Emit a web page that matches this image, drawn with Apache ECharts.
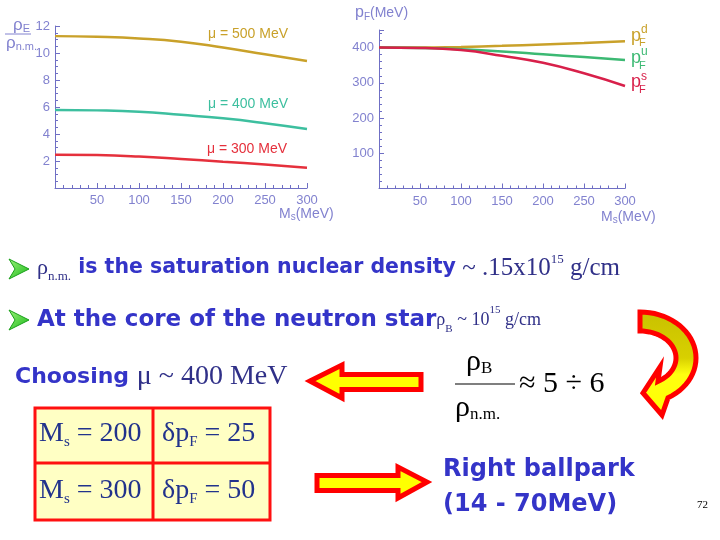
<!DOCTYPE html>
<html>
<head>
<meta charset="utf-8">
<script src="https://cdn.jsdelivr.net/npm/echarts@6/dist/echarts.min.js"></script>
<style>
  html, body { margin: 0; padding: 0; background: #fff; }
  #main { width: 720px; height: 540px; }
</style>
</head>
<body>
<div id="main"></div>
<script>
// strange quark mass Ms (MeV)
const msValues = [0, 50, 100, 150, 200, 250, 300]
// rho_B / rho_n.m. for three chemical potentials
const ratioMu500 = [11.25, 11.2, 11.08, 10.84, 10.4, 9.9, 9.4]
const ratioMu400 = [5.78, 5.75, 5.65, 5.42, 5.16, 4.8, 4.37]
const ratioMu300 = [2.47, 2.44, 2.33, 2.15, 1.95, 1.74, 1.5]
// Fermi momenta (MeV) at mu = 400 MeV
const pfD = [400, 400, 402, 405, 409, 413, 418]
const pfU = [400, 399, 395, 389, 381, 373, 365]
const pfS = [400, 399, 393, 377, 357, 327, 291]
const seriesLabels = ['μ = 500 MeV', 'μ = 400 MeV', 'μ = 300 MeV']

const axisBlue = '#6f6fc4'
const labelBlue = '#8282cf'
const gold = '#c9a12a'
const teal = '#3dbf9f'
const red = '#e5303c'
const green = '#3cb973'
const crimson = '#d8204a'
const comicBlue = '#3434c8'
const serifBlue = '#303088'
const sans = '"Liberation Sans", Arial, sans-serif'
const serif = '"Liberation Serif", "Times New Roman", serif'
const comic = '"DejaVu Sans", sans-serif'

const chart = echarts.init(document.getElementById('main'))

function pair(xs, ys) {
  return xs.map((x, i) => [x, ys[i]])
}

function xAxisCfg(idx) {
  return {
    gridIndex: idx, type: 'value', min: 0, max: 300, interval: 50,
    axisLine: { onZero: false, lineStyle: { color: axisBlue, width: 1 } },
    axisTick: { inside: true, length: 5, lineStyle: { color: axisBlue } },
    minorTick: { show: true, splitNumber: 5, length: 3, lineStyle: { color: axisBlue } },
    axisLabel: { color: labelBlue, fontFamily: sans, fontSize: 13, margin: 6,
      formatter: v => (v === 0 ? '' : v) },
    splitLine: { show: false }
  }
}

function yAxisCfg(idx, max, interval, minorSplit) {
  return {
    gridIndex: idx, type: 'value', min: 0, max: max, interval: interval,
    axisLine: { show: true, lineStyle: { color: axisBlue, width: 1 } },
    axisTick: { show: true, inside: true, length: 5, lineStyle: { color: axisBlue } },
    minorTick: { show: true, splitNumber: minorSplit, length: 3, lineStyle: { color: axisBlue } },
    axisLabel: { color: labelBlue, fontFamily: sans, fontSize: 13, margin: 5, showMaxLabel: max % interval === 0,
      formatter: v => (v === 0 || v % interval ? '' : v) },
    splitLine: { show: false }
  }
}

function line(idx, data, color) {
  return {
    type: 'line', xAxisIndex: idx, yAxisIndex: idx, data: pair(msValues, data),
    smooth: true, showSymbol: false, symbol: 'none',
    lineStyle: { color: color, width: 2.5 }, silent: true, animation: false
  }
}

// plain text helper
function txt(x, y, text, font, size, color, extra) {
  return {
    type: 'text', x: x, y: y, silent: true,
    style: Object.assign({ text: text, fontFamily: font, fontSize: size, fill: color, verticalAlign: 'middle' }, extra || {})
  }
}

// rich text line with sub / superscripts
function richLine(x, y, text, color, extraRich) {
  const rich = Object.assign({
    r: { fontFamily: serif, fontSize: 22, lineHeight: 28, fill: color },
    t: { fontFamily: serif, fontSize: 20, lineHeight: 28, fill: color },
    c: { fontFamily: comic, fontWeight: 'bold', fontSize: 20, lineHeight: 28, fill: comicBlue },
    sub: { fontFamily: serif, fontSize: 13, lineHeight: 13, verticalAlign: 'bottom', fill: color },
    sup: { fontFamily: serif, fontSize: 13, lineHeight: 13, verticalAlign: 'top', fill: color }
  }, extraRich || {})
  return { type: 'text', x: x, y: y, silent: true, style: { text: text, rich: rich, verticalAlign: 'middle' } }
}

function polygon(points, extra) {
  return Object.assign({
    type: 'polygon', silent: true,
    shape: { points: points },
    style: { fill: '#ffff00', stroke: '#ff0000', lineWidth: 5, lineJoin: 'miter' }
  }, extra || {})
}

function bullet(y) {
  return polygon([[9, y - 10], [29, y], [9, y + 10], [15, y]], {
    style: { fill: new echarts.graphic.LinearGradient(0, 0, 1, 1, [
      { offset: 0, color: '#9cf27a' }, { offset: 1, color: '#18b818' }]), stroke: '#1aa01a', lineWidth: 1 }
  })
}

// curved arrow: outer/inner elliptic bands + head
function curvedArrow() {
  const cx = 640, cy = 358
  const pts = []
  for (let a = -90; a <= 60; a += 5) {
    const r = a * Math.PI / 180
    pts.push([cx + 56 * Math.cos(r), cy + 46 * Math.sin(r)])
  }
  pts.push([662, 415], [643, 393], [660, 367])
  for (let a = 60; a >= -90; a -= 5) {
    const r = a * Math.PI / 180
    pts.push([cx + 36 * Math.cos(r), cy + 27 * Math.sin(r)])
  }
  return polygon(pts, {
    style: {
      fill: new echarts.graphic.LinearGradient(0, 0, 0, 1, [
        { offset: 0, color: '#c8c000' }, { offset: 0.45, color: '#d8d000' }, { offset: 0.6, color: '#ffff10' }, { offset: 1, color: '#ffff00' }]),
      stroke: '#ff0000', lineWidth: 5, lineJoin: 'miter'
    }
  })
}

const cellRich = {
  t: { fontFamily: serif, fontSize: 28, lineHeight: 32, fill: '#22338c' },
  sub: { fontFamily: serif, fontSize: 15, lineHeight: 15, verticalAlign: 'bottom', fill: '#22338c' }
}

const graphics = [
  // left chart axis titles
  txt(13, 25, '{p|ρ}{s|E}', sans, 16, labelBlue, {
    rich: { p: { fontSize: 17, fill: labelBlue, fontFamily: sans, lineHeight: 18 },
      s: { fontSize: 11, fill: labelBlue, fontFamily: sans, lineHeight: 11, verticalAlign: 'bottom' } } }),
  { type: 'line', silent: true, shape: { x1: 5, y1: 34, x2: 31, y2: 34 }, style: { stroke: labelBlue, lineWidth: 1 } },
  txt(6, 43, '{p|ρ}{s|n.m.}', sans, 16, labelBlue, {
    rich: { p: { fontSize: 17, fill: labelBlue, fontFamily: sans, lineHeight: 18 },
      s: { fontSize: 11, fill: labelBlue, fontFamily: sans, lineHeight: 11, verticalAlign: 'bottom' } } }),
  txt(279, 214, '{m|M}{s|s}{m|(MeV)}', sans, 14, labelBlue, {
    rich: { m: { fontSize: 14, fill: labelBlue, fontFamily: sans, lineHeight: 16 },
      s: { fontSize: 10, fill: labelBlue, fontFamily: sans, lineHeight: 10, verticalAlign: 'bottom' } } }),
  txt(601, 217, '{m|M}{s|s}{m|(MeV)}', sans, 14, labelBlue, {
    rich: { m: { fontSize: 14, fill: labelBlue, fontFamily: sans, lineHeight: 16 },
      s: { fontSize: 10, fill: labelBlue, fontFamily: sans, lineHeight: 10, verticalAlign: 'bottom' } } }),
  txt(355, 13, '{p|p}{s|F}{m|(MeV)}', sans, 14, labelBlue, {
    rich: { p: { fontSize: 16, fill: labelBlue, fontFamily: sans, lineHeight: 18 },
      m: { fontSize: 14, fill: labelBlue, fontFamily: sans, lineHeight: 18 },
      s: { fontSize: 10, fill: labelBlue, fontFamily: sans, lineHeight: 10, verticalAlign: 'bottom' } } }),
  // series labels, left chart
  txt(208, 34, seriesLabels[0], sans, 14, gold),
  txt(208, 104, seriesLabels[1], sans, 14, teal),
  txt(207, 149, seriesLabels[2], sans, 14, red),
  // right chart labels
  txt(631, 36, 'p', sans, 18, gold), txt(641, 30, 'd', sans, 12, gold), txt(639, 43, 'F', sans, 11, gold),
  txt(631, 58, 'p', sans, 18, green), txt(641, 52, 'u', sans, 12, green), txt(639, 66, 'F', sans, 11, green),
  txt(631, 82, 'p', sans, 18, crimson), txt(641, 77, 's', sans, 12, crimson), txt(639, 90, 'F', sans, 11, crimson),
  // bullets and text lines
  bullet(269),
  richLine(37, 268, '{r|ρ}{sub|n.m.}{c| is the saturation nuclear density}{t| ~ .15x10}{sup|15}{t| g/cm}', serifBlue, {
    t: { fontFamily: serif, fontSize: 25, lineHeight: 30, fill: serifBlue },
    r: { fontFamily: serif, fontSize: 22, lineHeight: 30, fill: serifBlue },
    c: { fontFamily: comic, fontWeight: 'bold', fontSize: 20.5, lineHeight: 30, fill: comicBlue }
  }),
  bullet(320),
  richLine(37, 320, '{c|At the core of the neutron star}{r|ρ}{sub|B}{t| ~ 10}{sup|15}{t| g/cm}', serifBlue, {
    c: { fontFamily: comic, fontWeight: 'bold', fontSize: 23, lineHeight: 30, fill: comicBlue },
    r: { fontFamily: serif, fontSize: 18, lineHeight: 30, fill: serifBlue },
    t: { fontFamily: serif, fontSize: 18, lineHeight: 30, fill: serifBlue },
    sub: { fontFamily: serif, fontSize: 11, lineHeight: 11, verticalAlign: 'bottom', fill: serifBlue },
    sup: { fontFamily: serif, fontSize: 11, lineHeight: 11, verticalAlign: 'top', fill: serifBlue }
  }),
  richLine(15, 377, '{c|Choosing }{t|μ ~ 400 MeV}', serifBlue, {
    c: { fontFamily: comic, fontWeight: 'bold', fontSize: 22, lineHeight: 32, fill: comicBlue },
    t: { fontFamily: serif, fontSize: 28, lineHeight: 32, fill: serifBlue }
  }),
  // table
  { type: 'rect', silent: true, shape: { x: 35, y: 408, width: 235, height: 112 },
    style: { fill: '#ffffc4', stroke: '#ff1010', lineWidth: 3 } },
  { type: 'line', silent: true, shape: { x1: 153, y1: 408, x2: 153, y2: 520 }, style: { stroke: '#ff1010', lineWidth: 3 } },
  { type: 'line', silent: true, shape: { x1: 35, y1: 463, x2: 270, y2: 463 }, style: { stroke: '#ff1010', lineWidth: 3 } },
  richLine(39, 434, '{t|M}{sub|s}{t| = 200}', '#22338c', cellRich),
  richLine(162, 434, '{t|δp}{sub|F}{t| = 25}', '#22338c', cellRich),
  richLine(39, 491, '{t|M}{sub|s}{t| = 300}', '#22338c', cellRich),
  richLine(162, 491, '{t|δp}{sub|F}{t| = 50}', '#22338c', cellRich),
  // arrows
  polygon([[310, 381], [342, 365], [342, 374.5], [421, 374.5], [421, 389.5], [342, 389.5], [342, 398]]),
  polygon([[317, 475.5], [398, 475.5], [398, 467], [427, 482], [398, 498], [398, 490.5], [317, 490.5]]),
  curvedArrow(),
  // fraction
  richLine(466, 362, '{t|ρ}{sub|B}', '#000', { t: { fontFamily: serif, fontSize: 30, lineHeight: 30, fill: '#000' },
    sub: { fontFamily: serif, fontSize: 17, lineHeight: 17, verticalAlign: 'bottom', fill: '#000' } }),
  { type: 'line', silent: true, shape: { x1: 455, y1: 384, x2: 515, y2: 384 }, style: { stroke: '#000', lineWidth: 1.2 } },
  richLine(455, 408, '{t|ρ}{sub|n.m.}', '#000', { t: { fontFamily: serif, fontSize: 30, lineHeight: 30, fill: '#000' },
    sub: { fontFamily: serif, fontSize: 17, lineHeight: 17, verticalAlign: 'bottom', fill: '#000' } }),
  txt(519, 384, '≈ 5 ÷ 6', serif, 30, '#000'),
  // conclusion
  txt(443, 470, 'Right ballpark', comic, 24, comicBlue, { fontWeight: 'bold' }),
  txt(443, 505, '(14 - 70MeV)', comic, 24, comicBlue, { fontWeight: 'bold' }),
  txt(697, 505, '72', serif, 11, '#000')
]

chart.setOption({
  animation: false,
  backgroundColor: '#fff',
  grid: [
    { left: 55, top: 26, width: 252, height: 162 },
    { left: 379, top: 30, width: 246, height: 158.5 }
  ],
  xAxis: [xAxisCfg(0), xAxisCfg(1)],
  yAxis: [yAxisCfg(0, 12, 2, 4), yAxisCfg(1, 450, 100, 5)],
  series: [
    line(0, ratioMu500, gold),
    line(0, ratioMu400, teal),
    line(0, ratioMu300, red),
    line(1, pfD, gold),
    line(1, pfU, green),
    line(1, pfS, crimson)
  ],
  graphic: graphics
})
</script>
</body>
</html>
